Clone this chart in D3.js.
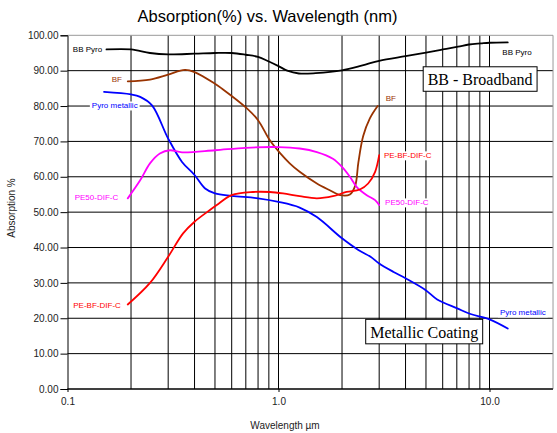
<!DOCTYPE html>
<html>
<head>
<meta charset="utf-8">
<script src="https://cdn.jsdelivr.net/npm/d3@7"></script>
<style>
  html, body { margin: 0; padding: 0; background: #fff; }
  svg { display: block; font-family: "Liberation Sans", Arial, sans-serif; }
</style>
</head>
<body>
<svg id="chart" width="557" height="433"></svg>
<script>
// ---------------- data ----------------
const titleText = "Absorption(%) vs. Wavelength (nm)";
const xTitle = "Wavelength µm";
const yTitle = "Absorption %";
const xTickValues = [0.1, 1, 10];
const xTickLabels = ["0.1", "1.0", "10.0"];
const xGridValues = [0.2,0.3,0.4,0.5,0.6,0.7,0.8,0.9,1,2,3,4,5,6,7,8,9,10];
const yTickValues = [0,10,20,30,40,50,60,70,80,90,100];

const seriesNames = ["BB Pyro", "BF", "Pyro metallic", "PE50-DIF-C", "PE-BF-DIF-C"];

const bbPyroWl  = [0.153,0.2,0.246,0.3,0.4,0.5,0.6,0.7,0.8,0.9,1.0,1.1,1.25,1.5,2.0,2.5,3.0,4.0,5.0,6.0,7.1,8.0,9.1,10,12.2];
const bbPyroVal = [96.0,96.0,95.0,94.6,94.8,95.0,95.0,94.5,93.9,92.6,91.3,90.0,89.2,89.3,90.1,91.5,92.8,94.1,95.1,96.0,96.8,97.4,97.7,97.9,98.0];

const bfWl  = [0.193,0.246,0.3,0.36,0.4,0.5,0.54,0.7,0.8,0.91,1.02,1.13,1.26,1.52,1.75,1.96,2.18,2.31,2.39,2.52,2.71,2.95];
const bfVal = [87.0,87.5,88.9,90.2,89.6,86.3,84.9,79.6,76.0,70.3,66.6,63.8,61.4,58.1,56.2,54.8,55.0,57.5,64.0,71.5,76.5,80.0];

const pyroMetWl  = [0.149,0.2,0.221,0.2515,0.3,0.349,0.4,0.449,0.5,0.6,0.8,1.0,1.26,1.52,2.0,2.39,2.73,3.0,3.51,4.0,4.97,5.65,7.03,8.13,10,12.2];
const pyroMetVal = [84.0,83.3,82.6,80.2,70.8,64.2,60.5,56.7,55.3,54.6,53.9,52.9,51.3,48.6,42.6,39.3,37.4,35.5,33.1,31.3,28.0,25.3,22.8,21.2,19.7,17.1];

const pe50Wl  = [0.193,0.221,0.246,0.274,0.306,0.349,0.5,0.7,1.0,1.26,1.52,1.81,2.0,2.18,2.35,2.62,2.87,3.0];
const pe50Val = [53.9,59.0,63.8,66.6,67.5,66.9,67.5,68.2,68.4,68.0,67.0,65.1,62.8,60.0,57.1,54.8,53.4,52.0];

const pebfWl  = [0.193,0.246,0.3,0.353,0.4,0.473,0.51,0.6,0.757,0.91,1.05,1.26,1.52,1.81,2.10,2.43,2.66,2.87,3.0];
const pebfVal = [23.9,30.0,37.4,44.0,47.3,50.6,52.0,54.8,55.7,55.7,55.3,54.5,53.9,54.5,55.7,56.4,58.1,61.4,66.1];

// series label anchors, in data coordinates [wavelength, value]
const leftLabelAt  = [[0.146,96.0],[0.181,87.6],[0.215,80.1],[0.174,54.2],[0.179,23.7]];
const rightLabelAt = [[11.5,95.3],[3.22,82.1],[11.2,21.6],[3.2,52.7],[3.16,66.0]];

const boxTexts = ["BB - Broadband", "Metallic Coating"];
const boxAt = [[4.85,91.1],[2.59,19.7]]; // top-left corners in data coordinates

// ---------------- styles ----------------
const colors = ["#000000", "#993300", "#0000ff", "#ff00ff", "#ff0000"];
const seriesWl  = [bbPyroWl, bfWl, pyroMetWl, pe50Wl, pebfWl];
const seriesVal = [bbPyroVal, bfVal, pyroMetVal, pe50Val, pebfVal];

const svg = d3.select("#chart");
const x = d3.scaleLog().domain([0.1, 20]).range([67.5, 67.5 + 211 * Math.log10(200)]);
const y = d3.scaleLinear().domain([0, 100]).range([389, 35.3]);

// background
svg.append("rect").attr("width", 557).attr("height", 433).attr("fill", "#fff");

// grid
const grid = svg.append("g");
grid.selectAll("line.gx").data(xGridValues).enter().append("line")
  .attr("x1", d => x(d)).attr("x2", d => x(d))
  .attr("y1", y(0)).attr("y2", y(100))
  .attr("stroke", "#000").attr("stroke-width", 1);
grid.selectAll("line.gy").data(yTickValues).enter().append("line")
  .attr("x1", x(0.1)).attr("x2", x(20))
  .attr("y1", d => y(d)).attr("y2", d => y(d))
  .attr("stroke", d => d === 100 ? "#999" : "#000").attr("stroke-width", 1);
// right border
svg.append("line").attr("x1", x(20)).attr("x2", x(20)).attr("y1", y(0)).attr("y2", y(100))
  .attr("stroke", "#999").attr("stroke-width", 1);

// axes
const yAxis = d3.axisLeft(y).tickValues(yTickValues).tickFormat(d3.format(".2f")).tickSize(7).tickPadding(2);
const gy = svg.append("g").attr("transform", `translate(${x(0.1)},0)`).call(yAxis);
gy.select(".domain").attr("stroke", "#000");
gy.selectAll(".tick line").attr("stroke", "#000");
gy.selectAll("text").attr("font-size", 10).attr("fill", "#222").attr("font-family", "Liberation Sans, Arial, sans-serif");

const xAxis = d3.axisBottom(x).tickValues(xTickValues).tickFormat((d, i) => xTickLabels[i]).tickSize(3).tickPadding(6);
const gx = svg.append("g").attr("transform", `translate(0,${y(0)})`).call(xAxis);
gx.select(".domain").attr("stroke", "#000").attr("d", `M${x(0.1)},0H${x(20)}`);
gx.selectAll(".tick line").attr("stroke", "#000");
gx.selectAll("text").attr("font-size", 10).attr("fill", "#222").attr("font-family", "Liberation Sans, Arial, sans-serif");

// title & axis titles
svg.append("text").attr("x", 267.5).attr("y", 22).attr("text-anchor", "middle")
  .attr("font-size", 16.5).attr("fill", "#000").text(titleText);
svg.append("text").attr("x", 285).attr("y", 429).attr("text-anchor", "middle")
  .attr("font-size", 10).attr("fill", "#222").text(xTitle);
svg.append("text").attr("transform", "translate(15,208) rotate(-90)").attr("text-anchor", "middle")
  .attr("font-size", 10).attr("fill", "#222").text(yTitle);

// lines
const line = d3.line().x(d => x(d[0])).y(d => y(d[1])).curve(d3.curveCatmullRom.alpha(0.5));
seriesNames.forEach((name, i) => {
  const pts = seriesWl[i].map((w, j) => [w, seriesVal[i][j]]);
  svg.append("path").datum(pts).attr("d", line)
    .attr("fill", "none").attr("stroke", colors[i]).attr("stroke-width", 1.8)
    .attr("stroke-linejoin", "round").attr("stroke-linecap", "round");
});

// series labels with white background
function addLabel(txt, px, py, anchor, color) {
  const g = svg.append("g");
  const bg = g.append("rect").attr("fill", "#fff");
  const t = g.append("text").attr("x", px).attr("y", py).attr("dy", "0.35em")
    .attr("text-anchor", anchor).attr("font-size", 8).attr("fill", color).text(txt);
  const b = t.node().getBBox();
  bg.attr("x", b.x - 2).attr("y", b.y).attr("width", b.width + 4).attr("height", b.height);
}
seriesNames.forEach((name, i) => {
  addLabel(name, x(leftLabelAt[i][0]), y(leftLabelAt[i][1]), "end", colors[i]);
  addLabel(name, x(rightLabelAt[i][0]), y(rightLabelAt[i][1]), "start", colors[i]);
});

// annotation boxes
boxTexts.forEach((txt, i) => {
  const g = svg.append("g");
  const bx = x(boxAt[i][0]), by = y(boxAt[i][1]);
  const rect = g.append("rect").attr("fill", "#fff").attr("stroke", "#000").attr("stroke-width", 1);
  const t = g.append("text").attr("x", bx + 4.5).attr("y", by + 18.5)
    .attr("font-family", "Liberation Serif, Times New Roman, serif")
    .attr("font-size", 16).attr("fill", "#000").text(txt);
  const b = t.node().getBBox();
  rect.attr("x", bx).attr("y", by).attr("width", b.width + 9).attr("height", 24.5);
});
</script>
</body>
</html>
